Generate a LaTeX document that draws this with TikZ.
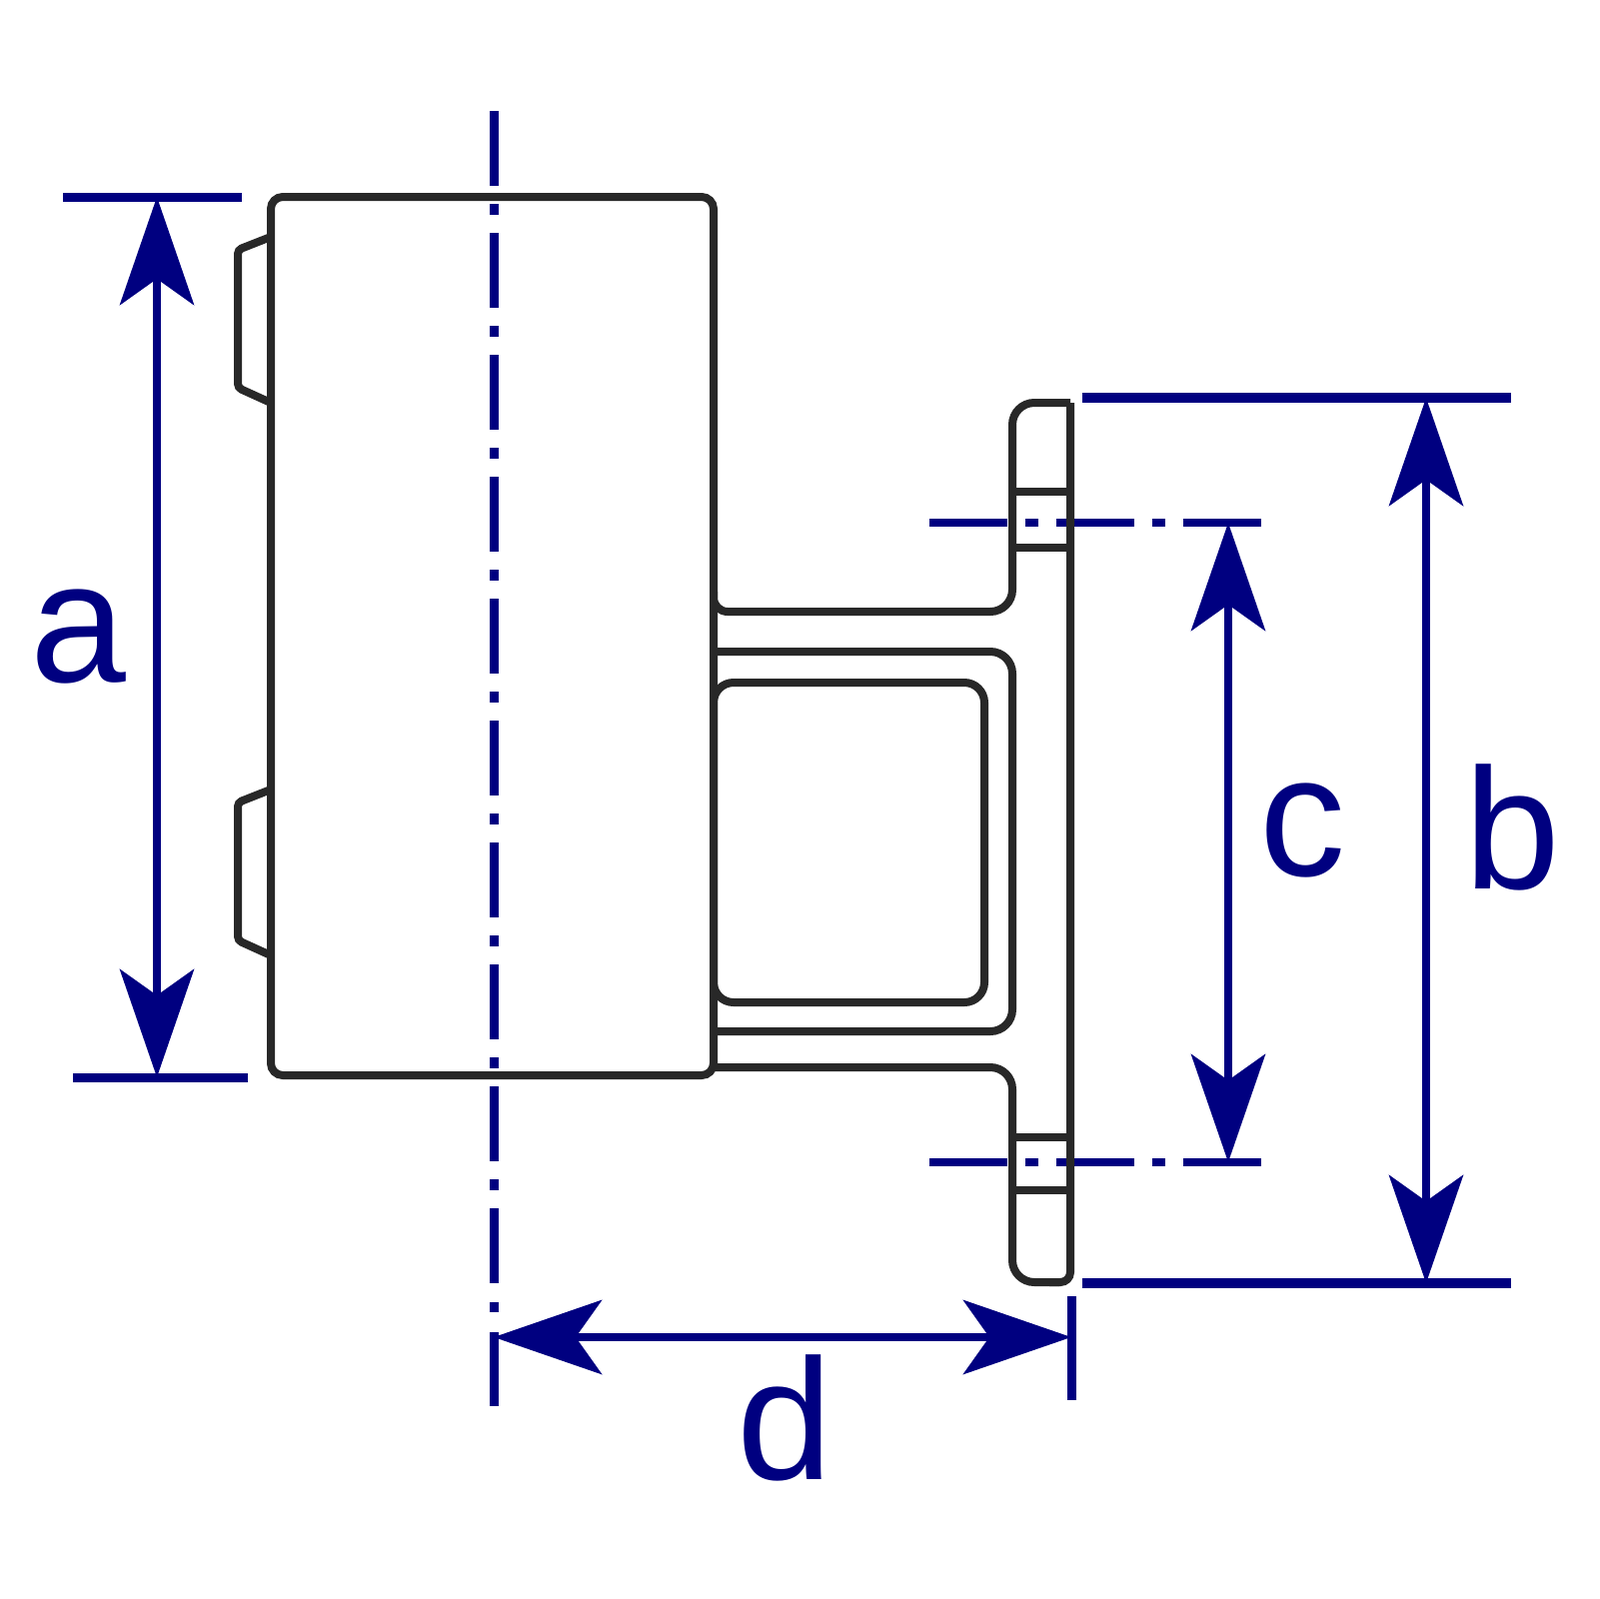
\documentclass[tikz,border=0pt]{standalone}
\usepackage{fontspec}
\setmainfont{Liberation Sans}
\definecolor{dimblue}{RGB}{0,0,128}
\definecolor{partblack}{RGB}{40,40,40}
\usetikzlibrary{arrows.meta}

\begin{document}
\begin{tikzpicture}[x=0.1mm,y=-0.1mm,
    partline/.style={draw=partblack,line width=0.8mm},
    extline/.style={draw=dimblue,line width=0.9mm},
    wideline/.style={draw=dimblue,line width=1mm},
    dimline/.style={draw=dimblue,line width=0.85mm,
        {Stealth[length=10.8mm,width=7.4mm,inset=2.6mm]}-{Stealth[length=10.8mm,width=7.4mm,inset=2.6mm]}},
    axisv/.style={draw=dimblue,line width=0.9mm,dash pattern=on 7.5mm off 1.8mm on 1.1mm off 1.8mm},
    axish/.style={draw=dimblue,line width=0.85mm,dash pattern=on 7.8mm off 1.8mm on 1.3mm off 1.8mm},
    dimlabel/.style={text=dimblue,font=\fontsize{49}{49}\selectfont,inner sep=0pt}
    ]
    \useasboundingbox (0,0) rectangle (1600,1600);

    % the end points of the dimensions
    \coordinate (a1) at (157,197);
    \coordinate (a2) at (157,1078);
    \coordinate (b1) at (1427,398);
    \coordinate (b2) at (1427,1284);
    \coordinate (c1) at (1229,523);
    \coordinate (c2) at (1229,1163);
    \coordinate (d1) at (494,1338);
    \coordinate (d2) at (1072,1338);

    % the labels
    \node (la) [dimlabel] at (78,637) {a};
    \node (lb) [dimlabel] at (1513,828) {b};
    \node (lc) [dimlabel] at (1304,831) {c};
    \node (ld) [dimlabel] at (785,1419) {d};

    % the axes
    \draw[axisv] (494,111) -- (494,1285);
    \draw[axisv] (494,1303) -- (494,1313);
    \draw[axish] (930,523) -- (1264,523);
    \draw[axish] (930,1163) -- (1264,1163);

    % the extension lines
    \draw[extline] (63,197) -- (242,197);
    \draw[extline] (73,1078) -- (248,1078);
    \draw[wideline] (1083,398) -- (1512,398);
    \draw[wideline] (1083,1284) -- (1512,1284);
    \draw[extline] (494,1333) -- (494,1407);
    \draw[extline] (1072,1297) -- (1072,1401);

    % the arrows
    \draw[dimline] (a1) -- (a2);
    \draw[dimline] (b1) -- (b2);
    \draw[dimline] (c1) -- (c2);
    \draw[dimline] (d1) -- (d2);

    % the body and its two lugs
    \draw[partline,rounded corners=1.2mm] (271,197) -- (714,197) -- (714,1076) -- (271,1076) -- cycle;
    \draw[partline,rounded corners=0.4mm] (271,237) -- (238,250) -- (238,388) -- (271,403);
    \draw[partline,rounded corners=0.4mm] (271,790) -- (238,803) -- (238,941) -- (271,956);

    % the flange
    \draw[partline,rounded corners=1.4mm] (714,592) -- (714,612) -- (860,612);
    \draw[partline,rounded corners=2.2mm] (860,612) -- (1013,612) -- (1013,403) -- (1071,403);
    \draw[partline,rounded corners=2.2mm] (714,1068) -- (1013,1068) -- (1013,1283) -- (1060,1283);
    \draw[partline,rounded corners=1mm] (1071,403) -- (1071,1283) -- (1050,1283);
    \draw[partline,rounded corners=2.2mm] (714,652) -- (1013,652) -- (1013,1032) -- (714,1032);
    \draw[partline,rounded corners=2mm] (714,683) rectangle (985,1003);

    % the bolt holes
    \draw[partline] (1013,492) -- (1071,492);
    \draw[partline] (1013,548) -- (1071,548);
    \draw[partline] (1013,1138) -- (1071,1138);
    \draw[partline] (1013,1191) -- (1071,1191);
\end{tikzpicture}
\end{document}
